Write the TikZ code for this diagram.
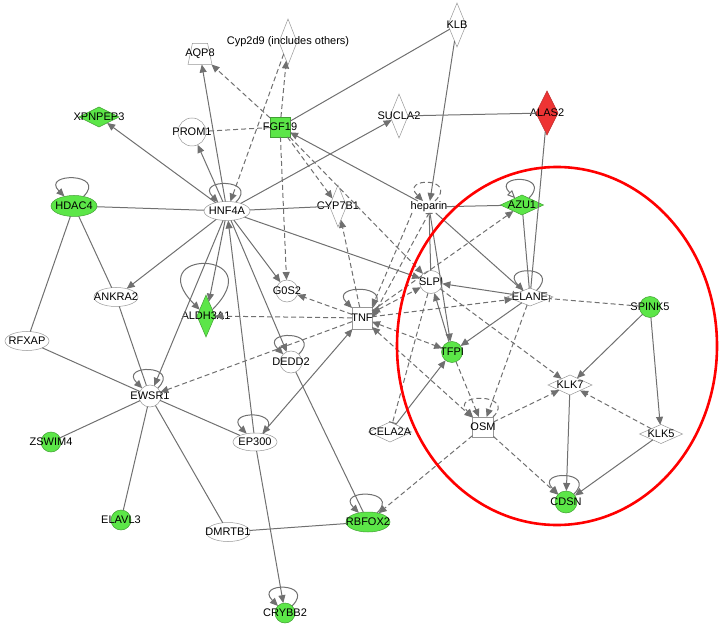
\documentclass[tikz,border=0pt]{standalone}
\usepackage{fontspec}
\setmainfont{Liberation Sans}
\usetikzlibrary{shapes.geometric, arrows.meta}

\definecolor{hitgreen}{RGB}{92,230,72}
\definecolor{hitred}{RGB}{238,52,52}
\definecolor{linkgray}{RGB}{112,112,112}
\definecolor{rimgray}{RGB}{150,150,150}

\tikzset{
  mol/.style={draw=rimgray, line width=0.5pt, inner sep=0pt, outer sep=0pt},
  oval/.style={mol, ellipse, minimum width=44pt, minimum height=19pt},
  ball/.style={mol, circle, minimum size=#1},
  ball/.default=22pt,
  kite/.style 2 args={mol, diamond, minimum width=#1, minimum height=#2},
  box/.style={mol, rectangle, minimum width=21pt, minimum height=21pt},
  cup/.style={mol, trapezium, trapezium left angle=74, trapezium right angle=74,
    trapezium stretches=true, inner sep=3pt, minimum width=24pt, minimum height=21pt},
  hit/.style={fill=hitgreen, draw=hitgreen!70!black},
  every label/.style={font=\fontsize{11}{12}\selectfont, inner sep=0pt},
  link/.style={draw=linkgray, line width=1pt},
  act/.style={link, -{Triangle[length=8pt,width=7pt]}},
  both/.style={link, {Triangle[length=8pt,width=7pt]}-{Triangle[length=8pt,width=7pt]}},
  cut/.style={link, -{Bar[width=7pt]}},
  ind/.style={dash pattern=on 5pt off 3pt},
  self/.style={act, out=45, in=135, min distance=#1},
  self/.default=34pt,
}

\begin{document}
\begin{tikzpicture}[x=1pt, y=1pt]
  \useasboundingbox (0,0) rectangle (722,627);
  % Molecules
  \node[cup, label=center:AQP8] (aqp) at (200,573) {};
  \node[kite={18pt}{46pt}, label={center:Cyp2d9 (includes others)}] (cyp) at (288,585) {};
  \node[kite={18pt}{44pt}, label=center:KLB] (klb) at (457,602) {};
  \node[kite={40pt}{20pt}, hit, label=center:XPNPEP3] (xpn) at (99,510) {};
  \node[ball=28pt, label=center:PROM1] (prom) at (192,495) {};
  \node[box, hit, minimum width=20pt, minimum height=20pt, label=center:FGF19] (fgf) at (280,500) {};
  \node[kite={18pt}{44pt}, label=center:SUCLA2] (suc) at (399,511) {};
  \node[kite={22pt}{44pt}, fill=hitred, draw=hitred!80!black, label=center:ALAS2] (ala) at (547,514) {};
  \node[oval, hit, minimum width=46pt, minimum height=21pt, label=center:HDAC4] (hdac) at (74,421) {};
  \node[oval, minimum width=46pt, label=center:HNF4A] (hnf) at (227,416) {};
  \node[kite={17pt}{42pt}, label=center:CYP7B1] (cyp7) at (338,421) {};
  \node[mol, draw=none, minimum width=34pt, minimum height=12pt, label=center:heparin] (hep) at (429,420) {};
  \node[kite={43pt}{20pt}, hit, label=center:AZU1] (azu) at (522,422) {};
  \node[oval, label=center:ANKRA2] (ank) at (116,330) {};
  \node[kite={18pt}{42pt}, hit, label=center:ALDH3A1] (ald) at (206,311) {};
  \node[ball, label=center:G0S2] (g0s) at (287,336) {};
  \node[box, minimum width=20pt, minimum height=22pt, label=center:TNF] (tnf) at (362,309) {};
  \node[ball=23pt, label=center:SLPI] (slpi) at (431,345) {};
  \node[kite={46pt}{18pt}, label=center:ELANE] (elane) at (530,330) {};
  \node[ball=21pt, hit, label=center:SPINK5] (spink) at (650,320) {};
  \node[oval, label=center:RFXAP] (rfx) at (27,286) {};
  \node[ball=21pt, hit, label=center:TFPI] (tfpi) at (452,275) {};
  \node[ball, label=center:DEDD2] (dedd) at (291,265) {};
  \node[ball, label=center:EWSR1] (ewsr) at (150,231) {};
  \node[kite={44pt}{20pt}, label=center:KLK7] (klk7) at (570,242) {};
  \node[kite={43pt}{20pt}, label=center:CELA2A] (cela) at (390,195) {};
  \node[box, minimum height=20pt, label=center:OSM] (osm) at (483,200) {};
  \node[kite={43pt}{19pt}, label=center:KLK5] (klk5) at (661,193) {};
  \node[ball=20pt, hit, label=center:ZSWIM4] (zsw) at (51,185) {};
  \node[oval, minimum height=18pt, label=center:EP300] (ep) at (255,185) {};
  \node[ball=20pt, hit, label=center:ELAVL3] (elavl) at (121,107) {};
  \node[oval, label=center:DMRTB1] (dmrtb) at (228,95) {};
  \node[oval, hit, minimum height=20pt, label=center:RBFOX2] (rbfox) at (368,105) {};
  \node[ball, hit, label=center:CDSN] (cdsn) at (566,125) {};
  \node[ball=20pt, hit, label=center:CRYBB2] (crybb) at (285,14) {};

  % Plain lines
  \foreach \a/\b in {hdac/hnf, hdac/ank, hdac/rfx, ank/ewsr, rfx/ewsr, ewsr/zsw,
      ewsr/elavl, ewsr/dmrtb, ewsr/ep, dmrtb/rbfox, dedd/rbfox, hnf/cyp7,
      fgf/klb, suc/ala, ala/elane, azu/elane, hep/azu, hep/elane}
    \draw[link] (\a) -- (\b);
  % Solid arrows
  \foreach \a/\b in {hnf/aqp, hnf/prom, hnf/xpn, hnf/suc, hnf/slpi, hnf/g0s,
      hnf/ank, hnf/ald, hnf/ewsr, hnf/dedd, ep/hnf, ep/crybb, hep/fgf, klb/hep,
      hep/tfpi, tfpi/slpi, elane/tfpi, cela/tfpi, spink/klk7, spink/klk5,
      klk7/cdsn, klk5/cdsn}
    \draw[act] (\a) -- (\b);
  \draw[both] (ep) -- (tnf);
  \draw[cut] (slpi) -- (hep);
  \draw[link, {Triangle[length=8pt,width=7pt]}-{Bar[width=7pt]}] (slpi) -- (elane);
  % Dashed arrows
  \foreach \a/\b in {fgf/aqp, fgf/cyp, cyp/hnf, fgf/cyp7, fgf/slpi, fgf/g0s,
      tnf/cyp7, tnf/g0s, tnf/ald, tnf/ewsr, tnf/azu, tnf/elane,
      slpi/klk7, tfpi/osm, elane/osm, osm/klk7, osm/cdsn, osm/rbfox, klk5/klk7}
    \draw[act, ind] (\a) -- (\b);
  \draw[act, ind] (hep.south west) -- (tnf.north east);
  \draw[act, ind] (hep.south) -- (tnf.east);
  \foreach \a/\b in {tnf/slpi, tnf/tfpi, tnf/osm}
    \draw[both, ind] (\a) -- (\b);
  \draw[link, ind] (fgf) -- (prom);
  \draw[cut, ind] (slpi) -- (cela);
  \draw[cut, ind] (spink) -- (elane);

  % Self loops
  \foreach \n in {hdac, hnf, tnf, ewsr, dedd, ep, rbfox, cdsn, crybb}
    \draw[self] (\n) to (\n);
  \draw[self=36pt] (elane) to (elane);
  \draw[self, ind] (hep) to (hep);
  \draw[self, ind] (osm) to (osm);
  \draw[link, -{Triangle[open,length=8pt,width=7pt]}, out=45, in=135, min distance=34pt] (azu) to (azu);
  \draw[self=86pt] (ald) to (ald);

  % Highlight ring
  \draw[red, line width=2.6pt] (557,281) ellipse [x radius=160pt, y radius=179pt];
\end{tikzpicture}
\end{document}
